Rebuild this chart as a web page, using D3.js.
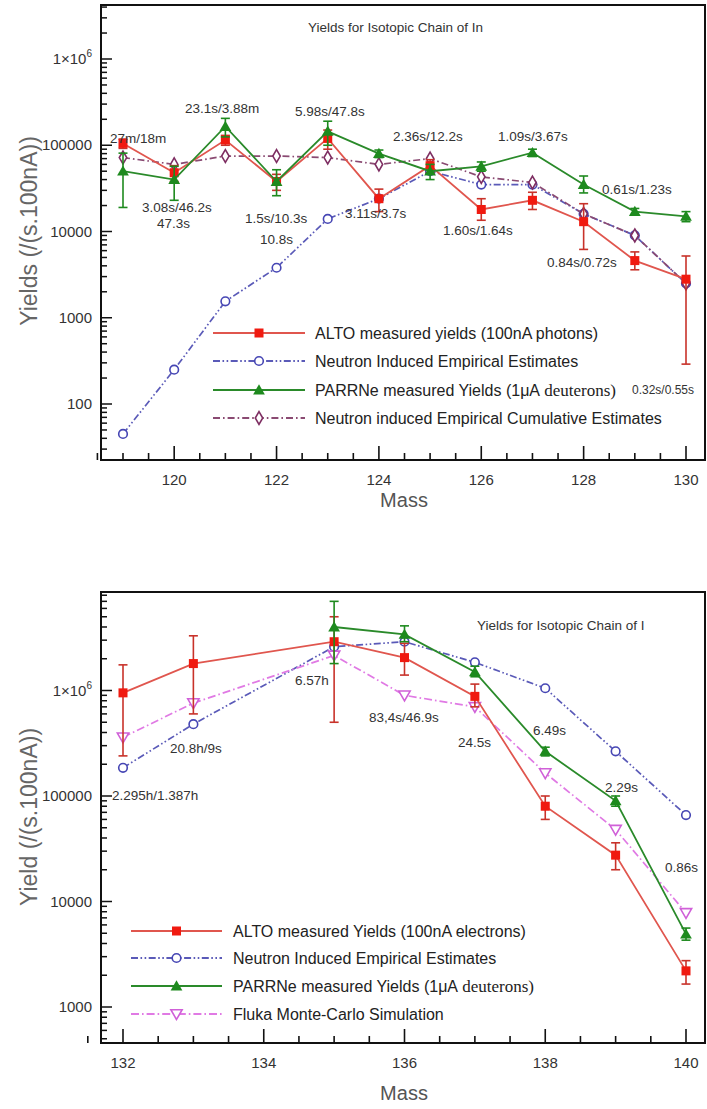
<!DOCTYPE html>
<html><head><meta charset="utf-8">
<script src="https://cdn.jsdelivr.net/npm/d3@7"></script>
<style>body{margin:0;background:#fff}</style>
</head><body>
<svg id="c" width="707" height="1109"></svg>
<script>
// ---------- Data: Isotopic chain of In ----------
const massIn = [119,120,121,122,123,124,125,126,127,128,129,130];
const altoIn   = [105000, 48000, 115000, 38000, 120000, 24000, 58000, 18000, 23000, 13000, 4600, 2800];
const altoInLo = [ 92000, 38000, 100000, 30000,  90000, 17000, 48000, 13500, 18000,  6200, 3600,  290];
const altoInHi = [118000, 58000, 130000, 46000, 150000, 31000, 68000, 24000, 28500, 21000, 5800, 5200];
const parrneIn   = [50000, 40000, 165000, 38000, 145000, 80000, 50000, 57000, 82000, 35000, 17000, 15000];
const parrneInLo = [19000, 23000, 125000, 26000, 100000, 72000, 40000, 50000, 74000, 28000, 15500, 13000];
const parrneInHi = [81000, 57000, 205000, 52000, 190000, 88000, 60000, 64000, 90000, 44000, 18500, 17000];
const neutronIn = [45, 250, 1550, 3800, 14000, 24000, 50000, 35000, 35000, 16000, 9000, 2500];
const cumulIn   = [72000, 60000, 75000, 75000, 72000, 60000, 70000, 43000, 37000, 16000, 9000, 2500];
const notesIn = ["27m/18m","23.1s/3.88m","5.98s/47.8s","2.36s/12.2s","1.09s/3.67s","3.08s/46.2s","47.3s",
                 "1.5s/10.3s","10.8s","3.11s/3.7s","1.60s/1.64s","0.61s/1.23s","0.84s/0.72s","0.32s/0.55s"];
const legendIn = ["ALTO measured yields (100nA photons)","Neutron Induced Empirical Estimates",
                  "PARRNe measured Yields (1\u03BCA","Neutron induced Empirical Cumulative Estimates"];
const ticksXIn = [120,122,124,126,128,130];
const ticksYIn = [100,1000,10000,100000,1000000];

// ---------- Data: Isotopic chain of I ----------
const massI = [132,133,135,136,137,138,139,140];
const altoI   = [950000, 1800000, 2900000, 2050000, 880000, 80000, 27500, 2200];
const altoILo = [240000,  600000,  500000, 1400000, 700000, 60000, 20000, 1650];
const altoIHi = [1750000,3300000, 5000000, 2800000,1150000,100000, 36000, 2750];
const massIParrne = [135,136,137,138,139,140];
const parrneI   = [4000000, 3400000, 1500000, 265000, 90000, 4900];
const parrneILo = [1800000, 2900000, 1350000, 240000, 80000, 4300];
const parrneIHi = [7000000, 4100000, 1700000, 290000,100000, 5600];
const neutronI = [185000, 480000, 2600000, 2900000, 1850000, 1050000, 265000, 66000];
const flukaI   = [360000, 760000, 2150000, 900000, 700000, 165000, 48000, 7800];
const notesI = ["6.57h","20.8h/9s","2.295h/1.387h","83,4s/46.9s","24.5s","6.49s","2.29s","0.86s"];
const legendI = ["ALTO measured Yields (100nA electrons)","Neutron Induced Empirical Estimates",
                 "PARRNe measured Yields (1\u03BCA","Fluka Monte-Carlo Simulation"];
const ticksXI = [132,134,136,138,140];
const ticksYI = [1000,10000,100000,1000000];

// ---------- Drawing ----------
const svg = d3.select("#c");
const FONT = "'Liberation Sans', Arial, sans-serif";

const C = {
  red:"#f01a10", redLine:"#e0564e", redErr:"#c8322a",
  blue:"#4646b4", blueLine:"#5a5ab8",
  green:"#1e8a1e", greenLine:"#2a8a2a",
  purple:"#7e2e62", purpleLine:"#8a4a72",
  mag:"#d060d8", magLine:"#e07ae4"
};
const DASH2DOT = "7,2.5,1.6,2.5,1.6,2.5";
const DASHDOT = "7,3,1.6,3";

function marker(g, type, x, y, color) {
  if (type === "square") {
    g.append("rect").attr("x", x-4.5).attr("y", y-4.5).attr("width", 9).attr("height", 9).attr("fill", color);
  } else if (type === "tri") {
    g.append("path").attr("d", d3.symbol(d3.symbolTriangle, 60)()).attr("transform", `translate(${x},${y+1})`).attr("fill", color);
  } else if (type === "circle") {
    g.append("circle").attr("cx", x).attr("cy", y).attr("r", 4.3).attr("fill", "#fff").attr("stroke", color).attr("stroke-width", 1.6);
  } else if (type === "diamond") {
    g.append("path").attr("d", d3.symbol(d3.symbolDiamond, 48)()).attr("transform", `translate(${x},${y})`)
      .attr("fill", "#fff").attr("stroke", color).attr("stroke-width", 1.6);
  } else if (type === "tridown") {
    g.append("path").attr("d", d3.symbol(d3.symbolTriangle, 55)()).attr("transform", `translate(${x},${y-1}) rotate(180)`)
      .attr("fill", "#fff").attr("stroke", color).attr("stroke-width", 1.6);
  }
}

function drawPanel(p) {
  const g = svg.append("g");
  const x = p.x, y = p.y;
  p.series.forEach(s => {
    const pts = s.m.map((m,i) => [x(m), y(s.v[i])]);
    g.append("path").attr("d", d3.line()(pts)).attr("fill","none")
      .attr("stroke", s.line).attr("stroke-width", s.dash ? 1.7 : 1.8)
      .attr("stroke-dasharray", s.dash || null);
    if (s.lo) {
      s.m.forEach((m,i) => {
        const xx = x(m), y1 = y(s.lo[i]), y2 = y(s.hi[i]);
        g.append("line").attr("x1",xx).attr("x2",xx).attr("y1",y1).attr("y2",y2).attr("stroke",s.err).attr("stroke-width",1.6);
        [y1,y2].forEach(yy => g.append("line").attr("x1",xx-4.5).attr("x2",xx+4.5).attr("y1",yy).attr("y2",yy)
          .attr("stroke",s.err).attr("stroke-width",1.6));
      });
    }
    pts.forEach(([px,py]) => marker(g, s.marker, px, py, s.color));
  });
  const f = p.frame;
  g.append("rect").attr("x", f.l).attr("y", f.t).attr("width", f.r-f.l).attr("height", f.b-f.t)
    .attr("fill","none").attr("stroke","#111").attr("stroke-width",2);
  for (let v = p.xStart; v <= p.xEnd + 1e-9; v += 0.5) {
    const major = p.xTicks.includes(v);
    g.append("line").attr("x1", x(v)).attr("x2", x(v)).attr("y1", f.b).attr("y2", f.b - (major ? 14 : 7))
      .attr("stroke","#111").attr("stroke-width",1.6);
  }
  p.xTicks.forEach(v => {
    g.append("text").attr("x", x(v)).attr("y", f.b + 25).attr("text-anchor","middle")
      .attr("font-family", FONT).attr("font-size", 15).attr("fill","#333").text(v);
  });
  const ylo = y.invert(f.b), yhi = y.invert(f.t);
  for (let d = Math.floor(Math.log10(ylo)); d <= Math.ceil(Math.log10(yhi)); d++) {
    for (let k = 1; k <= 9; k++) {
      const v = k * Math.pow(10, d);
      if (v < ylo || v > yhi) continue;
      const yy = y(v);
      g.append("line").attr("x1", f.l).attr("x2", f.l + (k === 1 ? 11 : 6)).attr("y1", yy).attr("y2", yy)
        .attr("stroke","#111").attr("stroke-width",1.5);
    }
  }
  p.yTicks.forEach(v => {
    const t = g.append("text").attr("x", f.l - 9).attr("y", y(v) + 5).attr("text-anchor","end")
      .attr("font-family", FONT).attr("font-size", 15).attr("fill","#333");
    if (v === 1e6) {
      t.append("tspan").text("1\u00D710");
      t.append("tspan").attr("font-size", 10).attr("dy", -7).text("6");
    } else t.text(v);
  });
  g.append("text").attr("transform", `translate(${p.yLabelPos[0]},${p.yLabelPos[1]}) rotate(-90)`)
    .attr("text-anchor","middle").attr("font-family", FONT).attr("font-size", 23).attr("fill","#666").text(p.yLabel);
  g.append("text").attr("x", p.massPos[0]).attr("y", p.massPos[1]).attr("text-anchor","middle")
    .attr("font-family", FONT).attr("font-size", 20).attr("fill","#555").text("Mass");
  g.append("text").attr("x", p.titlePos[0]).attr("y", p.titlePos[1]).attr("font-family", FONT)
    .attr("font-size", 13.5).attr("fill","#333").text(p.title);
  p.notes.forEach((txt,i) => {
    const pos = p.notePos[i];
    g.append("text").attr("x", pos[0]).attr("y", pos[1]).attr("font-family", FONT)
      .attr("font-size", pos[2] || 13.5).attr("fill","#333").text(txt);
  });
  const L = p.legend;
  p.series.forEach(s => {
    const yy = L.rows[s.li];
    g.append("line").attr("x1", L.x1).attr("x2", L.x2).attr("y1", yy).attr("y2", yy)
      .attr("stroke", s.line).attr("stroke-width", 1.8).attr("stroke-dasharray", s.dash || null);
    marker(g, s.marker, (L.x1+L.x2)/2, yy, s.color);
    const t = g.append("text").attr("x", L.tx).attr("y", yy + 6).attr("font-family", FONT)
      .attr("font-size", 16).attr("fill","#222");
    const label = p.legendText[s.li];
    t.append("tspan").text(label);
    if (label.endsWith("(1\u03BCA")) {
      t.append("tspan").attr("font-family","'Liberation Serif', 'Times New Roman', serif").attr("font-size",17).text(" deuterons)");
    }
  });
  return g;
}

// Top panel: In chain
const xIn = d3.scaleLinear().domain([119,130]).range([123,686]);
const yIn = d3.scaleLog().domain([100, 1e6]).range([404, 59]);
drawPanel({
  x: xIn, y: yIn, xStart: 118.5, xEnd: 130,
  frame: {l:101, r:705, t:5, b:460},
  xTicks: ticksXIn, yTicks: ticksYIn,
  series: [
    {m: massIn, v: neutronIn, marker:"circle", color:C.blue, line:C.blueLine, dash:DASH2DOT, li:1},
    {m: massIn, v: cumulIn, marker:"diamond", color:C.purple, line:C.purpleLine, dash:DASHDOT, li:3},
    {m: massIn, v: altoIn, lo: altoInLo, hi: altoInHi, err:C.redErr, marker:"square", color:C.red, line:C.redLine, li:0},
    {m: massIn, v: parrneIn, lo: parrneInLo, hi: parrneInHi, err:C.green, marker:"tri", color:C.green, line:C.greenLine, li:2}
  ],
  legendText: legendIn,
  legend: {x1:213, x2:305, tx:315, rows:[333, 361, 390, 418]},
  yLabel: "Yields (/(s.100nA))", yLabelPos:[37, 231], massPos:[404, 507],
  title: "Yields for Isotopic Chain of In", titlePos:[308, 32],
  notes: notesIn,
  notePos: [[110,143],[185,113],[295,116],[393,141],[498,141],[142,212],[157,228],[245,223],[260,244],[345,218],[443,235],[602,194],[547,267],[632,394,12]]
});

// Bottom panel: I chain
const xI = d3.scaleLinear().domain([132,140]).range([123,686]);
const yI = d3.scaleLog().domain([1000, 1e6]).range([1007, 690.5]);
drawPanel({
  x: xI, y: yI, xStart: 131.5, xEnd: 140,
  frame: {l:101, r:705, t:592, b:1043},
  xTicks: ticksXI, yTicks: ticksYI,
  series: [
    {m: massI, v: neutronI, marker:"circle", color:C.blue, line:C.blueLine, dash:DASH2DOT, li:1},
    {m: massI, v: flukaI, marker:"tridown", color:C.mag, line:C.magLine, dash:"8,3,1.6,3", li:3},
    {m: massI, v: altoI, lo: altoILo, hi: altoIHi, err:C.redErr, marker:"square", color:C.red, line:C.redLine, li:0},
    {m: massIParrne, v: parrneI, lo: parrneILo, hi: parrneIHi, err:C.green, marker:"tri", color:C.green, line:C.greenLine, li:2}
  ],
  legendText: legendI,
  legend: {x1:131, x2:222, tx:233, rows:[931, 958, 986, 1014]},
  yLabel: "Yield (/(s.100nA))", yLabelPos:[37, 817], massPos:[404, 1100],
  title: "Yields for Isotopic Chain of I", titlePos:[477, 630],
  notes: notesI,
  notePos: [[295,685],[170,753],[112,800],[369,722],[458,747],[533,735],[605,792],[665,872]]
});
</script>
</body></html>
